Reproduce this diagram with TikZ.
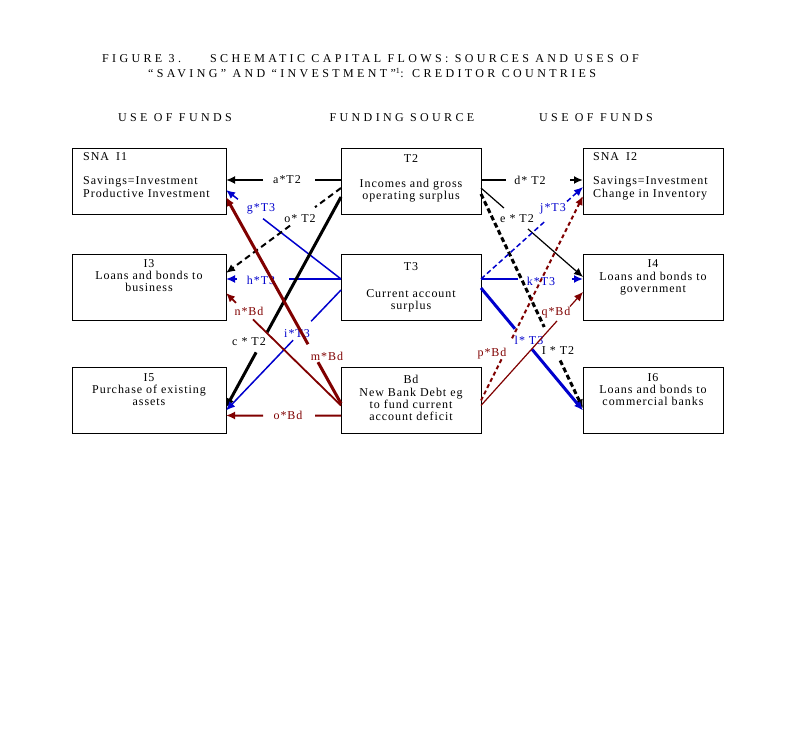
\documentclass[tikz,border=0pt]{standalone}
\usepackage{fontspec}
\setmainfont{Liberation Serif}
\newfontfamily\bodyf[LetterSpace=8]{Liberation Serif}
\newfontfamily\ttlf[LetterSpace=28]{Liberation Serif}
\usetikzlibrary{arrows.meta,calc}
\definecolor{fblue}{RGB}{0,0,205}
\definecolor{fred}{RGB}{128,0,0}
\begin{document}
\begin{tikzpicture}[x=1pt,y=-1pt,
  font=\bodyf\fontsize{12}{12}\selectfont,
  >={Latex[length=9pt,width=8pt]},
  box/.style={draw,line width=0.8pt,minimum width=140pt,minimum height=66pt,inner sep=0pt,outer sep=0pt},
  wbox/.style={box,minimum width=154pt},
  txt/.style={inner sep=0pt,anchor=base,align=center},
  ltxt/.style={inner sep=0pt,anchor=base west,align=left},
  ttl/.style={inner sep=0pt,anchor=base,font=\ttlf\fontsize{12}{12}\selectfont},
  lbl/.style={inner sep=0pt},
  con/.style={line width=2pt}]
\fill[white] (0,0) rectangle (800,738);
\useasboundingbox (0,0) rectangle (800,738);

% title
\node[ttl,anchor=base west] (fig) at (102,63) {FIGURE 3.};
\node[ttl,anchor=base west] (t1) at (210,63) {SCHEMATIC CAPITAL FLOWS: SOURCES AND USES OF};
\node[ttl,anchor=base west] (t2) at (148,78) {“SAVING” AND “INVESTMENT”\textsuperscript{1}: CREDITOR COUNTRIES};
\node[ttl] (h1) at (175,122) {USE OF FUNDS};
\node[ttl] (h2) at (402,122) {FUNDING SOURCE};
\node[ttl] (h3) at (596,122) {USE OF FUNDS};

% boxes
\node[wbox] (I1) at (149,181) {};
\node[wbox] (I3) at (149,287) {};
\node[wbox] (I5) at (149,400.5) {};
\node[box] (T2) at (411,181) {};
\node[box] (T3) at (411,287) {};
\node[box] (Bd) at (411,400.5) {};
\node[box] (I2) at (653,181) {};
\node[box] (I4) at (653,287) {};
\node[box] (I6) at (653,400.5) {};

% box texts (multi-line nodes: base = last line)
\node[ltxt] (I1h) at (83,161) {SNA\hspace{7pt}I1};
\node[ltxt] (I1t) at (83,197) {Savings=Investment\\[1pt]Productive Investment};
\node[ltxt] (I2h) at (593,161) {SNA\hspace{7pt}I2};
\node[ltxt] (I2t) at (593,197) {Savings=Investment\\[1pt]Change in Inventory};
\node[txt] (T2h) at (411,163) {T2};
\node[txt] (T2t) at (411,200) {Incomes and gross\\operating surplus};
\node[txt] (I3h) at (149,267) {I3};
\node[txt] (I3t) at (149,291) {Loans and bonds to\\business};
\node[txt] (T3h) at (411,270) {T3};
\node[txt] (T3t) at (411,309) {Current account\\surplus};
\node[txt] (I4h) at (653,267) {I4};
\node[txt] (I4t) at (653,292) {Loans and bonds to\\government};
\node[txt] (I5h) at (149,381) {I5};
\node[txt] (I5t) at (149,405) {Purchase of existing\\assets};
\node[txt] (Bdh) at (411,383) {Bd};
\node[txt] (Bdt) at (411,420) {New Bank Debt eg\\to fund current\\account deficit};
\node[txt] (I6h) at (653,381) {I6};
\node[txt] (I6t) at (653,405) {Loans and bonds to\\commercial banks};

% connector end points
\coordinate (aS) at ($(T2.north west)+(0,32)$);
\coordinate (aE) at ($(I1.north east)+(0,32)$);
\coordinate (gS) at ($(T3.north west)+(0,25)$);
\coordinate (gE) at ($(I1.north east)+(0,42)$);
\coordinate (bS) at ($(T2.north west)+(0,40)$);
\coordinate (bE) at ($(I3.north east)+(0,19)$);
\coordinate (cS) at ($(T2.north west)+(0,49)$);
\coordinate (cE) at ($(I5.north east)+(0,40)$);
\coordinate (hS) at ($(T3.north west)+(0,25)$);
\coordinate (hE) at ($(I3.north east)+(0,25)$);
\coordinate (iS) at ($(T3.north west)+(0,36)$);
\coordinate (iE) at ($(I5.north east)+(0,43)$);
\coordinate (mS) at ($(Bd.north west)+(0,36)$);
\coordinate (mE) at ($(I1.north east)+(0,49)$);
\coordinate (nS) at ($(Bd.north west)+(0,38)$);
\coordinate (nE) at ($(I3.north east)+(0,39)$);
\coordinate (oS) at ($(Bd.north west)+(0,48)$);
\coordinate (oE) at ($(I5.north east)+(0,48)$);
\coordinate (dS) at ($(T2.north east)+(0,32)$);
\coordinate (dE) at ($(I2.north west)+(0,32)$);
\coordinate (eS) at ($(T2.north east)+(0,40)$);
\coordinate (eE) at ($(I4.north west)+(0,23)$);
\coordinate (fS) at ($(T2.north east)+(0,46)$);
\coordinate (fE) at ($(I6.north west)+(0,41)$);
\coordinate (jS) at ($(T3.north east)+(0,25)$);
\coordinate (jE) at ($(I2.north west)+(0,39)$);
\coordinate (kS) at ($(T3.north east)+(0,25)$);
\coordinate (kE) at ($(I4.north west)+(0,25)$);
\coordinate (lS) at ($(T3.north east)+(0,34)$);
\coordinate (lE) at ($(I6.north west)+(0,43)$);
\coordinate (pS) at ($(Bd.north east)+(0,33)$);
\coordinate (pE) at ($(I2.north west)+(0,48)$);
\coordinate (qS) at ($(Bd.north east)+(0,38)$);
\coordinate (qE) at ($(I4.north west)+(0,38)$);

% labels
\node[lbl] (la) at (287,180) {a*T2};
\node[lbl,text=fblue] (lg) at (261,209) {g*T3};
\node[lbl] (lb) at (300,219) {o* T2};
\node[lbl,text=fblue] (lh) at (261,280) {h*T3};
\node[lbl,text=fred] (ln) at (249,311) {n*Bd};
\node[lbl] (lc) at (249,342) {c * T2};
\node[lbl,text=fblue] (li) at (297,334) {i*T3};
\node[lbl,text=fred] (lm) at (327,356) {m*Bd};
\node[lbl,text=fred] (lo) at (288,415) {o*Bd};
\node[lbl] (ld) at (530,180) {d* T2};
\node[lbl] (le) at (517,219) {e * T2};
\node[lbl,text=fblue] (lj) at (553,209) {j*T3};
\node[lbl,text=fblue] (lk) at (541,281) {k*T3};
\node[lbl,text=fred] (lq) at (556,313) {q*Bd};
\node[lbl,text=fblue] (ll) at (529,340) {l* T3};
\node[lbl,text=fred] (lp) at (492,354) {p*Bd};
\node[lbl] (lf) at (558,351) {I * T2};

% left-side connectors
\draw[con] (aS) -- ($(aS)!0.226!(aE)$);
\draw[con,->] ($(aS)!0.678!(aE)$) -- (aE);
\draw[con,fblue,line width=1.5pt] (gS) -- ($(gS)!0.678!(gE)$);
\draw[con,fblue,line width=1.5pt,->] ($(gS)!0.896!(gE)$) -- (gE);
\draw[con,dash pattern=on 6pt off 4pt] (bS) -- ($(bS)!0.226!(bE)$);
\draw[con,dash pattern=on 6pt off 4pt,->] ($(bS)!0.443!(bE)$) -- (bE);
\draw[con,fblue] (hS) -- ($(hS)!0.452!(hE)$);
\draw[con,fblue,->] ($(hS)!0.904!(hE)$) -- (hE);
\draw[con,line width=3pt] (cS) -- ($(cS)!0.643!(cE)$);
\draw[con,line width=3pt,->] ($(cS)!0.738!(cE)$) -- (cE);
\draw[con,fblue,line width=1.5pt] (iS) -- ($(iS)!0.26!(iE)$);
\draw[con,fblue,line width=1.5pt,->] ($(iS)!0.417!(iE)$) -- (iE);
\draw[con,fred,line width=1.8pt] (nS) -- ($(nS)!0.765!(nE)$);
\draw[con,fred,line width=1.8pt,->] ($(nS)!0.913!(nE)$) -- (nE);
\draw[con,fred,line width=3pt] (mS) -- ($(mS)!0.2!(mE)$);
\draw[con,fred,line width=3pt,->] ($(mS)!0.287!(mE)$) -- (mE);
\draw[con,fred] (oS) -- ($(oS)!0.226!(oE)$);
\draw[con,fred,->] ($(oS)!0.678!(oE)$) -- (oE);

% right-side connectors
\draw[con] (dS) -- ($(dS)!0.245!(dE)$);
\draw[con,->] ($(dS)!0.873!(dE)$) -- (dE);
\draw[con,line width=1.2pt] (eS) -- ($(eS)!0.225!(eE)$);
\draw[con,line width=1.2pt,->] ($(eS)!0.46!(eE)$) -- (eE);
\draw[con,line width=3pt,dash pattern=on 5pt off 3pt] (fS) -- ($(fS)!0.62!(fE)$);
\draw[con,line width=3pt,dash pattern=on 5pt off 3pt,->] ($(fS)!0.776!(fE)$) -- (fE);
\draw[con,fblue,line width=1.5pt,dash pattern=on 5pt off 3pt] (jS) -- ($(jS)!0.627!(jE)$);
\draw[con,fblue,line width=1.5pt,dash pattern=on 5pt off 3pt,->] ($(jS)!0.843!(jE)$) -- (jE);
\draw[con,fblue] (kS) -- ($(kS)!0.363!(kE)$);
\draw[con,fblue,->] ($(kS)!0.892!(kE)$) -- (kE);
\draw[con,fblue,line width=3pt] (lS) -- ($(lS)!0.333!(lE)$);
\draw[con,fblue,line width=3pt,->] ($(lS)!0.5!(lE)$) -- (lE);
\draw[con,fred,dash pattern=on 4pt off 3pt] (pS) -- ($(pS)!0.206!(pE)$);
\draw[con,fred,dash pattern=on 4pt off 3pt,->] ($(pS)!0.304!(pE)$) -- (pE);
\draw[con,fred,line width=1.2pt] (qS) -- ($(qS)!0.745!(qE)$);
\draw[con,fred,line width=1.2pt,->] ($(qS)!0.873!(qE)$) -- (qE);
\end{tikzpicture}
\end{document}
